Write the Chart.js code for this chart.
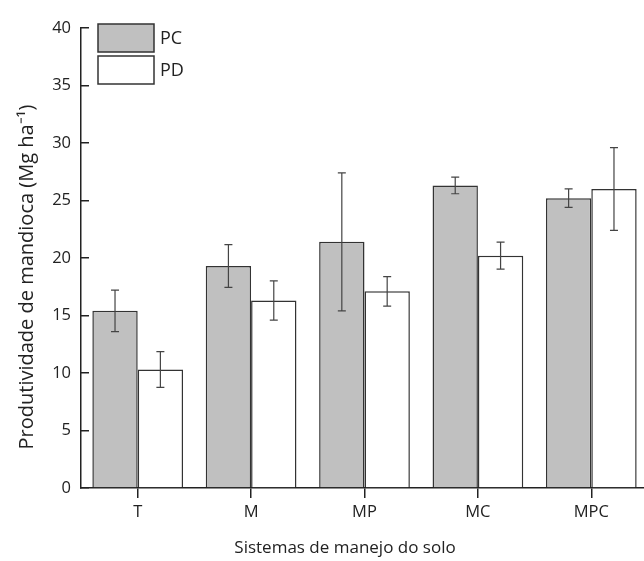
<!DOCTYPE html>
<html>
<head>
<meta charset="utf-8">
<script src="https://cdn.jsdelivr.net/npm/chart.js@4"></script>
<style>
  html, body { margin: 0; padding: 0; background: #fff; overflow: hidden; }
  #wrap { width: 644px; height: 561px; overflow: hidden; position: relative; }
  #wrap canvas { position: absolute; left: 0; top: 0; }
</style>
</head>
<body>
<div id="wrap"><canvas id="yieldChart" width="660" height="561"></canvas></div>
<script>
// Data
const categories = ['T', 'M', 'MP', 'MC', 'MPC'];
const pcValues = [15.4, 19.3, 21.4, 26.3, 25.2];
const pdValues = [10.3, 16.3, 17.1, 20.2, 26.0];
const pcErrors = [1.8, 1.85, 6.0, 0.72, 0.8];
const pdErrors = [1.56, 1.7, 1.28, 1.17, 3.6];
const yTicks = [0, 5, 10, 15, 20, 25, 30, 35, 40];

const ink = '#222';
Chart.defaults.font.family = "'Open Sans', sans-serif";
Chart.defaults.color = ink;

// error bars drawn on top of the bars
const errorBars = {
  id: 'errorBars',
  afterDatasetsDraw(chart) {
    const ctx = chart.ctx;
    const y = chart.scales.y;
    chart.data.datasets.forEach((ds, i) => {
      const meta = chart.getDatasetMeta(i);
      meta.data.forEach((bar, j) => {
        const v = ds.data[j], e = ds.errors[j];
        const top = y.getPixelForValue(v + e);
        const bot = y.getPixelForValue(v - e);
        ctx.save();
        ctx.strokeStyle = '#444';
        ctx.lineWidth = 1.2;
        ctx.beginPath();
        ctx.moveTo(bar.x, top); ctx.lineTo(bar.x, bot);
        ctx.moveTo(bar.x - 4, top); ctx.lineTo(bar.x + 4, top);
        ctx.moveTo(bar.x - 4, bot); ctx.lineTo(bar.x + 4, bot);
        ctx.stroke();
        ctx.restore();
      });
    });
  }
};

// legend boxes inside the plot + axis titles
const decorations = {
  id: 'decorations',
  afterDraw(chart) {
    const ctx = chart.ctx;
    ctx.save();
    chart.data.datasets.forEach((ds, i) => {
      const bx = 98, by = 24 + i * 32;
      ctx.fillStyle = ds.backgroundColor;
      ctx.fillRect(bx, by, 56, 28);
      ctx.strokeStyle = '#333';
      ctx.lineWidth = 1.5;
      ctx.strokeRect(bx, by, 56, 28);
      ctx.fillStyle = ink;
      ctx.font = "18px 'Open Sans', sans-serif";
      ctx.textBaseline = 'middle';
      ctx.textAlign = 'left';
      ctx.fillText(ds.label, bx + 62, by + 15);
    });

    ctx.textAlign = 'center';
    ctx.textBaseline = 'middle';
    ctx.font = "17px 'Open Sans', sans-serif";
    ctx.fillText('Sistemas de manejo do solo', 345, 548);

    ctx.font = "20px 'Open Sans', sans-serif";
    ctx.translate(27, 277);
    ctx.rotate(-Math.PI / 2);
    ctx.fillText('Produtividade de mandioca (Mg ha\u207B\u00B9)', 0, 0);
    ctx.restore();
  }
};

const ctx = document.getElementById('yieldChart').getContext('2d');
const yieldChart = new Chart(ctx, {
  type: 'bar',
  data: {
    labels: categories,
    datasets: [{
      label: 'PC',
      data: pcValues,
      errors: pcErrors,
      backgroundColor: '#c0c0c0',
      borderColor: '#333',
      borderWidth: 1.5
    }, {
      label: 'PD',
      data: pdValues,
      errors: pdErrors,
      backgroundColor: '#ffffff',
      borderColor: '#333',
      borderWidth: 1.5
    }]
  },
  options: {
    responsive: false,
    animation: false,
    layout: { padding: { top: 24, right: 12, left: 0, bottom: 0 } },
    plugins: {
      legend: { display: false },
      tooltip: { enabled: false }
    },
    datasets: {
      bar: { barPercentage: 1, categoryPercentage: 0.8 }
    },
    scales: {
      x: {
        grid: { drawOnChartArea: false, offset: false, tickLength: 10, color: ink, lineWidth: 1.5 },
        border: { color: ink, width: 1.5 },
        ticks: { font: { size: 16.5 }, padding: 4, color: ink },
        afterFit(scale) { scale.height = 73; }
      },
      y: {
        min: 0,
        max: 40,
        afterBuildTicks(scale) { scale.ticks = yTicks.map(v => ({ value: v })); },
        grid: { drawOnChartArea: false, tickLength: -8, color: ink, lineWidth: 1.5 },
        border: { color: ink, width: 1.5 },
        ticks: { font: { size: 16.5 }, padding: 18, color: ink },
        afterFit(scale) { scale.width = 81; }
      }
    }
  },
  plugins: [errorBars, decorations]
});
</script>
</body>
</html>
